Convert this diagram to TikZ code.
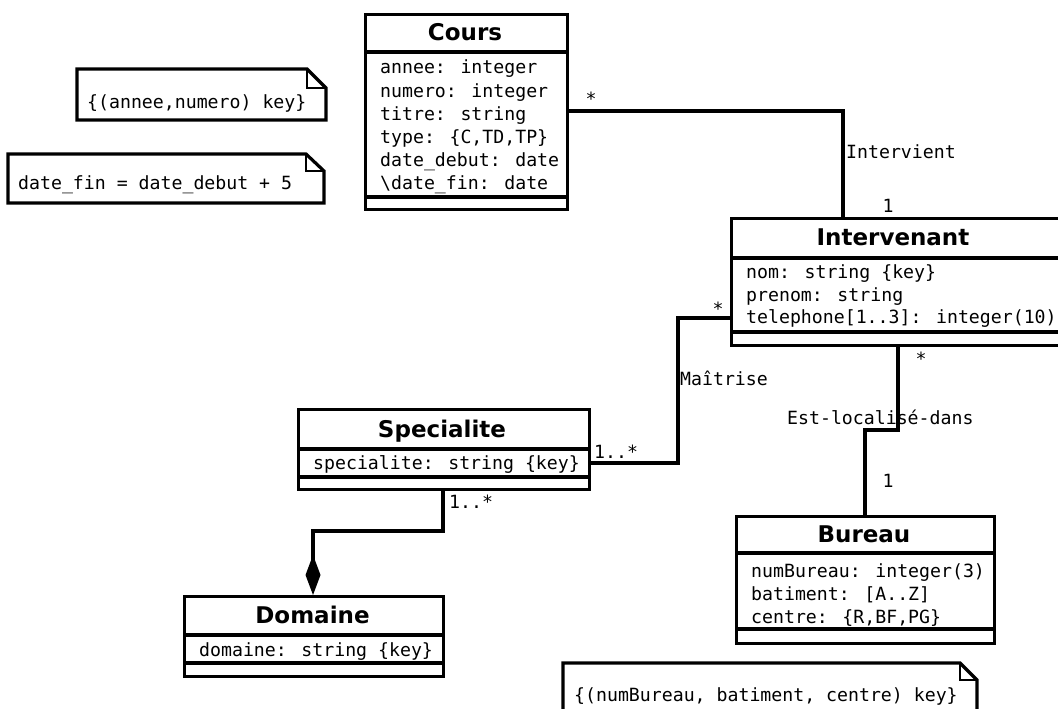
\documentclass[tikz,border=0pt]{standalone}
\usepackage{fontspec}
\newfontfamily\monofont{DejaVu Sans Mono}
\newfontfamily\titlefont{DejaVu Sans}
\usetikzlibrary{arrows.meta}
\begin{document}
\begin{tikzpicture}[x=1pt,y=-1pt,
  umlbox/.style={draw, line width=3.2pt, rectangle, inner sep=0pt, anchor=north west},
  divider/.style={line width=3.2pt},
  classtitle/.style={font=\titlefont\bfseries\fontsize{23}{27}\selectfont, anchor=base, inner sep=0pt},
  attr/.style={font=\monofont\fontsize{18.2}{23}\selectfont, anchor=base west, inner sep=0pt},
  lbl/.style={font=\monofont\fontsize{18.2}{23}\selectfont, anchor=base west, inner sep=0pt},
  mult/.style={font=\monofont\fontsize{18.2}{23}\selectfont, anchor=base, inner sep=0pt},
  conn/.style={line width=3.2pt},
  notebox/.style={line width=3.2pt, line join=miter},
  fold/.style={line width=2.2pt}]

\fill[white] (0,0) rectangle (1058,709);
\clip (0,0) rectangle (1058,709);

% ---------- classes ----------
% Cours
\node[umlbox, minimum width=202pt, minimum height=195pt] (cours) at (364,13) {};
\draw[divider] (cours.west |- 0,52) -- (cours.east |- 0,52);
\draw[divider] (cours.west |- 0,197) -- (cours.east |- 0,197);
\node[classtitle] (coursT) at (465,40.5) {Cours};
\node[attr] (coursA1) at (380,74) {annee: integer};
\node[attr] (coursA2) at (380,97) {numero: integer};
\node[attr] (coursA3) at (380,120) {titre: string};
\node[attr] (coursA4) at (380,143) {type: \{C,TD,TP\}};
\node[attr] (coursA5) at (380,166) {date\_debut: date};
\node[attr] (coursA6) at (380,189) {\textbackslash date\_fin: date};

% Intervenant
\node[umlbox, minimum width=334pt, minimum height=127pt] (interv) at (730,217) {};
\draw[divider] (interv.west |- 0,258) -- (interv.east |- 0,258);
\draw[divider] (interv.west |- 0,332) -- (interv.east |- 0,332);
\node[classtitle] (intervT) at (893,245.5) {Intervenant};
\node[attr] (intervA1) at (746,278) {nom: string \{key\}};
\node[attr] (intervA2) at (746,301) {prenom: string};
\node[attr] (intervA3) at (746,323) {telephone[1..3]: integer(10)};

% Specialite
\node[umlbox, minimum width=291pt, minimum height=80pt] (spec) at (297,408) {};
\draw[divider] (spec.west |- 0,449) -- (spec.east |- 0,449);
\draw[divider] (spec.west |- 0,477) -- (spec.east |- 0,477);
\node[classtitle] (specT) at (442,437.5) {Specialite};
\node[attr] (specA1) at (313,469) {specialite: string \{key\}};

% Domaine
\node[umlbox, minimum width=259pt, minimum height=80pt] (dom) at (183,595) {};
\draw[divider] (dom.west |- 0,635) -- (dom.east |- 0,635);
\draw[divider] (dom.west |- 0,663) -- (dom.east |- 0,663);
\node[classtitle] (domT) at (312.5,623.5) {Domaine};
\node[attr] (domA1) at (199,656) {domaine: string \{key\}};

% Bureau
\node[umlbox, minimum width=258pt, minimum height=127pt] (bur) at (735,515) {};
\draw[divider] (bur.west |- 0,553) -- (bur.east |- 0,553);
\draw[divider] (bur.west |- 0,629) -- (bur.east |- 0,629);
\node[classtitle] (burT) at (864,542.5) {Bureau};
\node[attr] (burA1) at (751,577) {numBureau: integer(3)};
\node[attr] (burA2) at (751,600) {batiment: [A..Z]};
\node[attr] (burA3) at (751,623) {centre: \{R,BF,PG\}};

% ---------- notes ----------
\draw[notebox] (77,69) -- (307,69) -- (326,88) -- (326,120) -- (77,120) -- cycle;
\draw[fold] (307,69) -- (307,88) -- (326,88);
\node[attr] (note1) at (87,108) {\{(annee,numero) key\}};

\draw[notebox] (8,154) -- (306,154) -- (324,171) -- (324,203) -- (8,203) -- cycle;
\draw[fold] (306,154) -- (306,171) -- (324,171);
\node[attr] (note2) at (18,189) {date\_fin = date\_debut + 5};

\draw[notebox] (563,663) -- (960,663) -- (977,680) -- (977,730) -- (563,730) -- cycle;
\draw[fold] (960,663) -- (960,680) -- (977,680);
\node[attr] (note3) at (574,701) {\{(numBureau, batiment, centre) key\}};

% ---------- associations ----------
% Intervient
\coordinate (b1) at (843,111);
\draw[conn] (cours.east |- b1) -- (b1) -- (interv.north -| b1);
\node[mult] (m1) at (591,106) {*};
\node[lbl] (l1) at (846,158) {Intervient};
\node[mult] (m2) at (888,212) {1};

% Maitrise
\coordinate (b2) at (678,318);
\coordinate (b3) at (678,463);
\draw[conn] (interv.west |- b2) -- (b2) -- (b3) -- (spec.east |- b3);
\node[mult] (m3) at (718,315) {*};
\node[lbl] (l2) at (680,385) {Maîtrise};
\node[lbl] (m4) at (594,458) {1..*};

% Est-localise-dans
\coordinate (b4) at (898,430);
\coordinate (b5) at (865,430);
\draw[conn] (interv.south -| b4) -- (b4) -- (b5) -- (bur.north -| b5);
\node[mult] (m5) at (921,365) {*};
\node[lbl] (l3) at (787,424) {Est-localisé-dans};
\node[mult] (m6) at (888,487) {1};

% composition Specialite -- Domaine
\coordinate (b6) at (443,531);
\coordinate (b7) at (313,531);
\draw[conn, -{Diamond[length=40pt, width=15pt]}] (spec.south -| b6) -- (b6) -- (b7) -- (dom.north -| b7);
\node[lbl] (m7) at (449,508) {1..*};

\end{tikzpicture}
\end{document}
